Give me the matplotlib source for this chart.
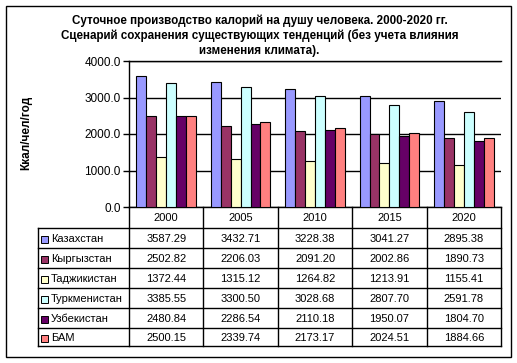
import matplotlib
matplotlib.use('Agg')
import matplotlib.pyplot as plt
from matplotlib.patches import Rectangle
import numpy as np

# data
years = ['2000', '2005', '2010', '2015', '2020']
countries = ['Казахстан', 'Кыргызстан', 'Таджикистан', 'Туркменистан', 'Узбекистан', 'БАМ']
kazakhstan = [3587.29, 3432.71, 3228.38, 3041.27, 2895.38]
kyrgyzstan = [2502.82, 2206.03, 2091.20, 2002.86, 1890.73]
tajikistan = [1372.44, 1315.12, 1264.82, 1213.91, 1155.41]
turkmenistan = [3385.55, 3300.50, 3028.68, 2807.70, 2591.78]
uzbekistan = [2480.84, 2286.54, 2110.18, 1950.07, 1804.70]
bam = [2500.15, 2339.74, 2173.17, 2024.51, 1884.66]
series = [kazakhstan, kyrgyzstan, tajikistan, turkmenistan, uzbekistan, bam]
colors = ['#9999FF', '#993366', '#FFFFCC', '#CCFFFF', '#660066', '#FF8080']

title_lines = ['Суточное производство калорий на душу человека. 2000-2020 гг.',
               'Сценарий сохранения существующих тенденций (без учета влияния',
               'изменения климата).']

plt.rcParams['font.family'] = ['Liberation Sans', 'DejaVu Sans']

W, H = 517, 363
fig = plt.figure(figsize=(W / 100, H / 100), dpi=100)

# plot area in pixels
L, R, T, B = 129, 501, 61, 207
ax = fig.add_axes([L / W, 1 - B / H, (R - L) / W, (B - T) / H])

x = np.arange(len(years))
w = 0.8 / len(series)
for j, (vals, c) in enumerate(zip(series, colors)):
    ax.bar(x + (j - 2.5) * w, vals, width=w, color=c, edgecolor='black',
           linewidth=0.8, zorder=3)

ax.set_xlim(-0.5, len(years) - 0.5)
ax.set_ylim(0, 4000)
ax.set_yticks([0, 1000, 2000, 3000, 4000])
ax.set_yticklabels([f'{v:.1f}' for v in [0, 1000, 2000, 3000, 4000]])
ax.set_xticks([])
ax.yaxis.grid(True, color='black', linewidth=1)
ax.set_axisbelow(True)
ax.spines['right'].set_visible(False)
for s in ['left', 'bottom', 'top']:
    ax.spines[s].set_linewidth(1)
ax.tick_params(axis='y', direction='out', length=4, width=1, labelsize=8.5, pad=2)

# overlay in pixel coordinates for title, table and border
ov = fig.add_axes([0, 0, 1, 1])
ov.set_xlim(0, W)
ov.set_ylim(H, 0)
ov.axis('off')
ov.patch.set_alpha(0)

ov.add_patch(Rectangle((6, 5.5), 504.5, 351.5, fill=False, edgecolor='black', linewidth=1))

for i, line in enumerate(title_lines):
    ov.text(259.5, 24 + i * 15, line, ha='center', va='baseline',
            fontsize=8.4, fontweight='bold')

ov.text(26, 133, 'Ккал/чел/год', rotation=90, ha='center', va='center',
        fontsize=8.5, fontweight='bold')

# data table
col_w = (R - L) / len(years)
col_edges = [L + k * col_w for k in range(len(years) + 1)]
row_edges = [228, 248, 268, 288, 308, 328, 346]
tab_left = 38

for k, xe in enumerate(col_edges):
    ov.plot([xe, xe], [B, row_edges[-1]], color='black', lw=1)
ov.plot([tab_left, tab_left], [row_edges[0], row_edges[-1]], color='black', lw=1)
for ye in row_edges:
    ov.plot([tab_left, R], [ye, ye], color='black', lw=1)

for k, yr in enumerate(years):
    ov.text((col_edges[k] + col_edges[k + 1]) / 2, (B + row_edges[0]) / 2 + 0.5, yr,
            ha='center', va='center', fontsize=8)

for r, (name, vals, c) in enumerate(zip(countries, series, colors)):
    yc = (row_edges[r] + row_edges[r + 1]) / 2 + 1
    ov.add_patch(Rectangle((40.5, yc - 3.5), 7, 7, facecolor=c, edgecolor='black', linewidth=0.7))
    ov.text(51, yc, name, ha='left', va='center', fontsize=8)
    for k, v in enumerate(vals):
        ov.text((col_edges[k] + col_edges[k + 1]) / 2, yc, f'{v:.2f}',
                ha='center', va='center', fontsize=8)

fig.savefig('out.png', dpi=100)
